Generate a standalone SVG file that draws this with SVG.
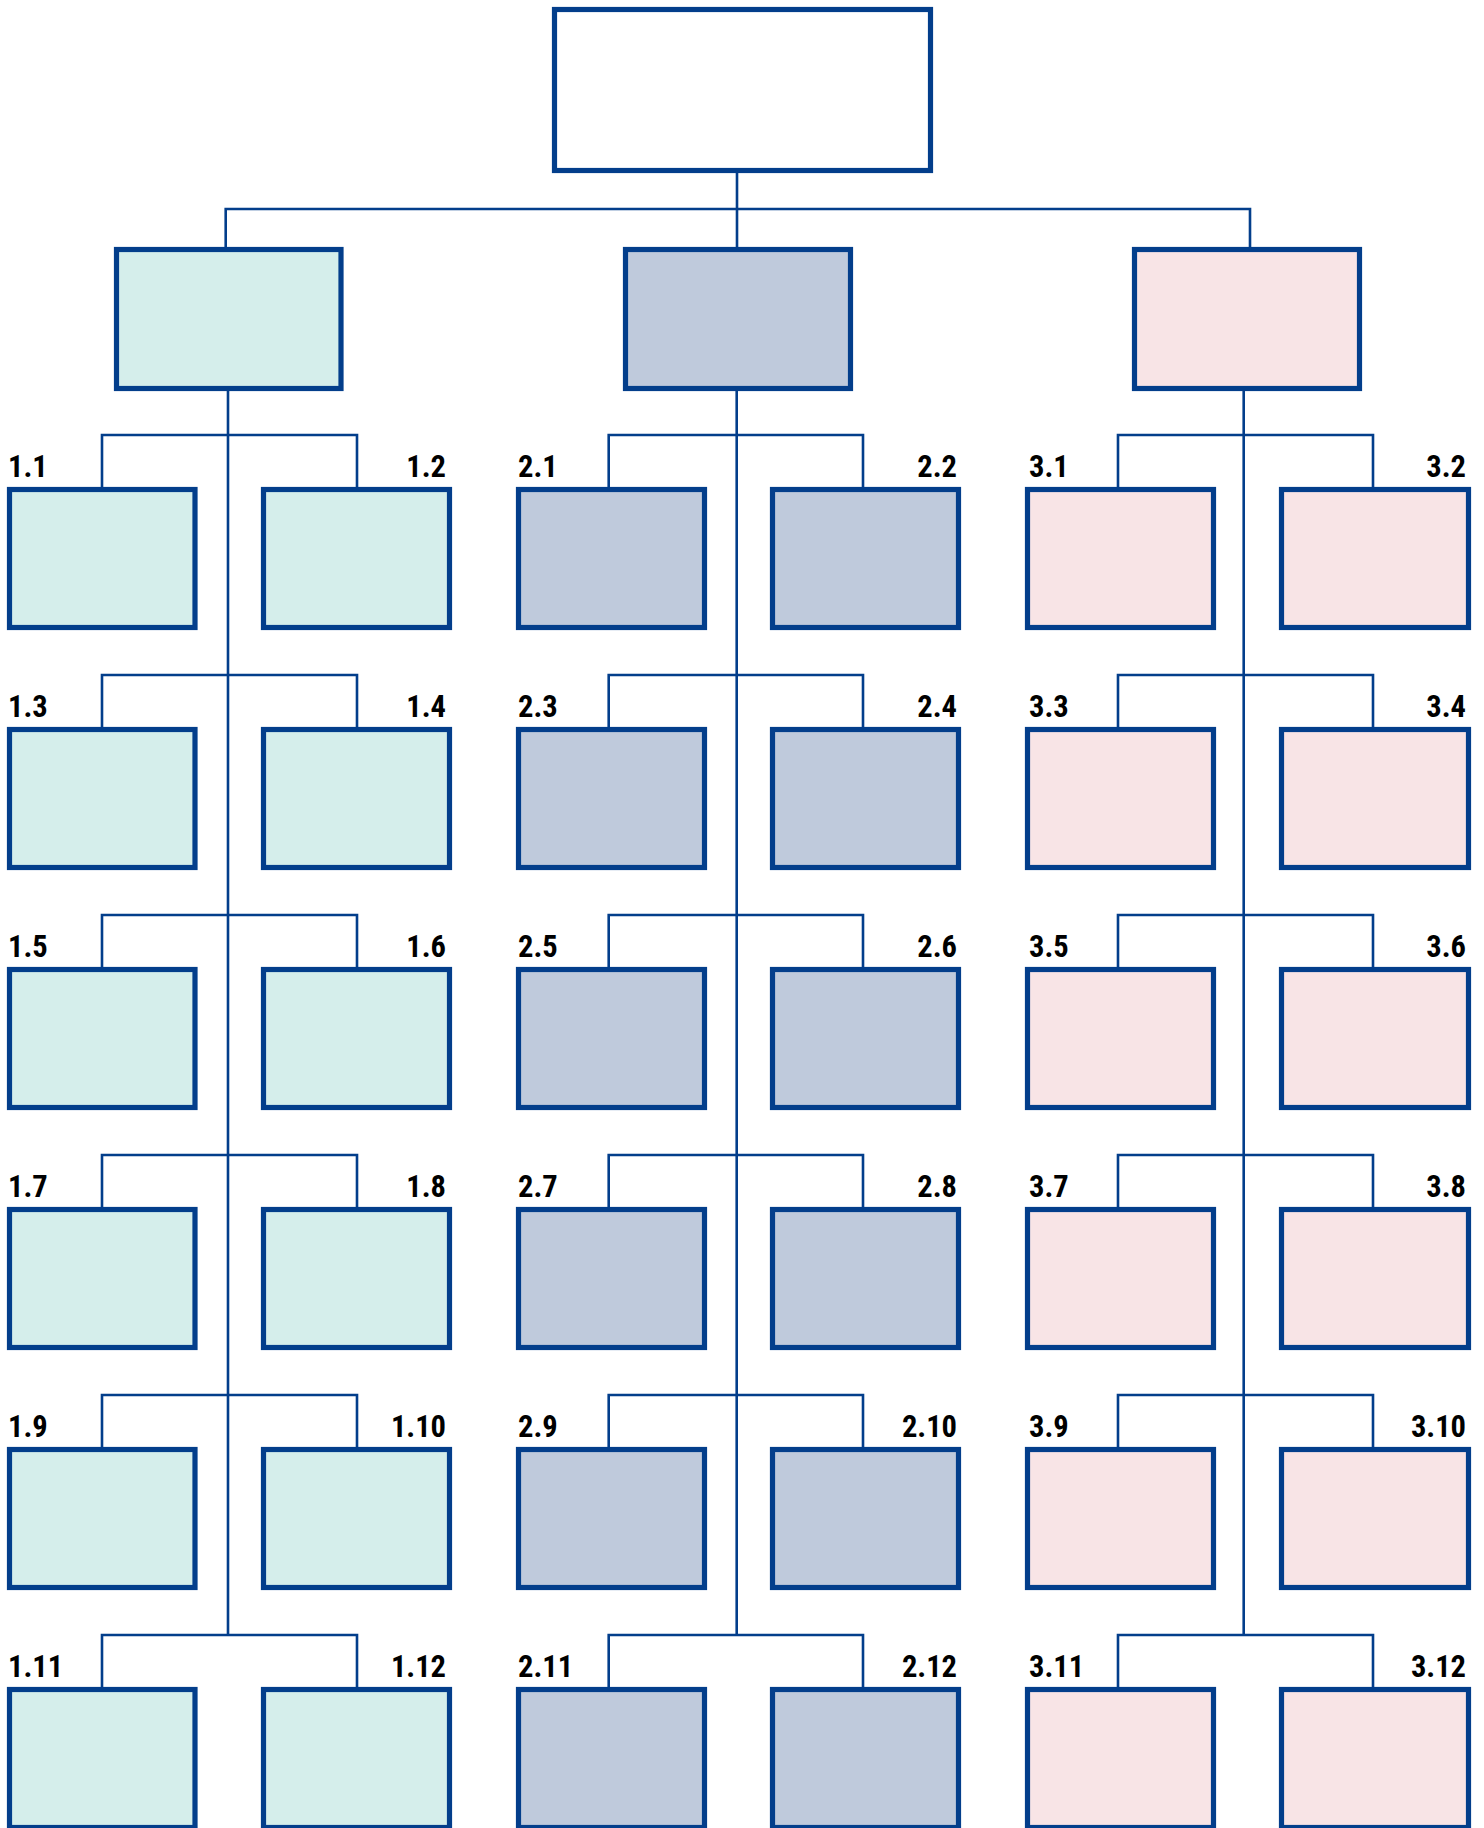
<svg xmlns="http://www.w3.org/2000/svg" width="1484" height="1828" viewBox="0 0 1484 1828">
<style>
.box{stroke:#033e8b;stroke-width:5.2;}
.top{fill:#ffffff;}
.c1{fill:#d5eeeb;}
.c2{fill:#bfcadc;}
.c3{fill:#f8e4e6;}
.ln{fill:none;stroke:#033e8b;stroke-width:2.6;}
.lbl{font-family:"Liberation Sans Narrow","Roboto Condensed","Liberation Sans",sans-serif;font-weight:bold;font-size:30.5px;fill:#000000;}
.r{text-anchor:end;}
</style>
<g id="connectors">
<path class="ln" d="M737,173V247M225.7,247V209H1250V247"/>
<path class="ln" d="M228,391V1635M736.7,391V1635M1243.7,391V1635"/>
<path class="ln" d="M102,487V435H357V487M102,727V675H357V727M102,967V915H357V967M102,1207V1155H357V1207M102,1447V1395H357V1447M102,1687V1635H357V1687"/>
<path class="ln" d="M608.7,487V435H863V487M608.7,727V675H863V727M608.7,967V915H863V967M608.7,1207V1155H863V1207M608.7,1447V1395H863V1447M608.7,1687V1635H863V1687"/>
<path class="ln" d="M1118,487V435H1373V487M1118,727V675H1373V727M1118,967V915H1373V967M1118,1207V1155H1373V1207M1118,1447V1395H1373V1447M1118,1687V1635H1373V1687"/>
</g>
<g id="root"><rect class="box top" x="554.5" y="9.5" width="376" height="161"/></g>
<g id="n1"><rect class="box c1" x="116.5" y="249.5" width="224.5" height="139"/></g>
<g id="n2"><rect class="box c2" x="625.5" y="249.5" width="225" height="139"/></g>
<g id="n3"><rect class="box c3" x="1134.5" y="249.5" width="225" height="139"/></g>

<g id="n1-1"><rect class="box c1" x="9.5" y="489.5" width="185.5" height="138"/><text class="lbl" x="8" y="477">1.1</text></g>
<g id="n1-2"><rect class="box c1" x="263.5" y="489.5" width="186" height="138"/><text class="lbl r" x="446" y="477">1.2</text></g>
<g id="n1-3"><rect class="box c1" x="9.5" y="729.5" width="185.5" height="138"/><text class="lbl" x="8" y="717">1.3</text></g>
<g id="n1-4"><rect class="box c1" x="263.5" y="729.5" width="186" height="138"/><text class="lbl r" x="446" y="717">1.4</text></g>
<g id="n1-5"><rect class="box c1" x="9.5" y="969.5" width="185.5" height="138"/><text class="lbl" x="8" y="957">1.5</text></g>
<g id="n1-6"><rect class="box c1" x="263.5" y="969.5" width="186" height="138"/><text class="lbl r" x="446" y="957">1.6</text></g>
<g id="n1-7"><rect class="box c1" x="9.5" y="1209.5" width="185.5" height="138"/><text class="lbl" x="8" y="1197">1.7</text></g>
<g id="n1-8"><rect class="box c1" x="263.5" y="1209.5" width="186" height="138"/><text class="lbl r" x="446" y="1197">1.8</text></g>
<g id="n1-9"><rect class="box c1" x="9.5" y="1449.5" width="185.5" height="138"/><text class="lbl" x="8" y="1437">1.9</text></g>
<g id="n1-10"><rect class="box c1" x="263.5" y="1449.5" width="186" height="138"/><text class="lbl r" x="446" y="1437">1.10</text></g>
<g id="n1-11"><rect class="box c1" x="9.5" y="1689.5" width="185.5" height="138"/><text class="lbl" x="8" y="1677">1.11</text></g>
<g id="n1-12"><rect class="box c1" x="263.5" y="1689.5" width="186" height="138"/><text class="lbl r" x="446" y="1677">1.12</text></g>

<g id="n2-1"><rect class="box c2" x="518.5" y="489.5" width="186" height="138"/><text class="lbl" x="518" y="477">2.1</text></g>
<g id="n2-2"><rect class="box c2" x="772.5" y="489.5" width="186" height="138"/><text class="lbl r" x="957" y="477">2.2</text></g>
<g id="n2-3"><rect class="box c2" x="518.5" y="729.5" width="186" height="138"/><text class="lbl" x="518" y="717">2.3</text></g>
<g id="n2-4"><rect class="box c2" x="772.5" y="729.5" width="186" height="138"/><text class="lbl r" x="957" y="717">2.4</text></g>
<g id="n2-5"><rect class="box c2" x="518.5" y="969.5" width="186" height="138"/><text class="lbl" x="518" y="957">2.5</text></g>
<g id="n2-6"><rect class="box c2" x="772.5" y="969.5" width="186" height="138"/><text class="lbl r" x="957" y="957">2.6</text></g>
<g id="n2-7"><rect class="box c2" x="518.5" y="1209.5" width="186" height="138"/><text class="lbl" x="518" y="1197">2.7</text></g>
<g id="n2-8"><rect class="box c2" x="772.5" y="1209.5" width="186" height="138"/><text class="lbl r" x="957" y="1197">2.8</text></g>
<g id="n2-9"><rect class="box c2" x="518.5" y="1449.5" width="186" height="138"/><text class="lbl" x="518" y="1437">2.9</text></g>
<g id="n2-10"><rect class="box c2" x="772.5" y="1449.5" width="186" height="138"/><text class="lbl r" x="957" y="1437">2.10</text></g>
<g id="n2-11"><rect class="box c2" x="518.5" y="1689.5" width="186" height="138"/><text class="lbl" x="518" y="1677">2.11</text></g>
<g id="n2-12"><rect class="box c2" x="772.5" y="1689.5" width="186" height="138"/><text class="lbl r" x="957" y="1677">2.12</text></g>

<g id="n3-1"><rect class="box c3" x="1027.5" y="489.5" width="186" height="138"/><text class="lbl" x="1029" y="477">3.1</text></g>
<g id="n3-2"><rect class="box c3" x="1281.5" y="489.5" width="187" height="138"/><text class="lbl r" x="1466" y="477">3.2</text></g>
<g id="n3-3"><rect class="box c3" x="1027.5" y="729.5" width="186" height="138"/><text class="lbl" x="1029" y="717">3.3</text></g>
<g id="n3-4"><rect class="box c3" x="1281.5" y="729.5" width="187" height="138"/><text class="lbl r" x="1466" y="717">3.4</text></g>
<g id="n3-5"><rect class="box c3" x="1027.5" y="969.5" width="186" height="138"/><text class="lbl" x="1029" y="957">3.5</text></g>
<g id="n3-6"><rect class="box c3" x="1281.5" y="969.5" width="187" height="138"/><text class="lbl r" x="1466" y="957">3.6</text></g>
<g id="n3-7"><rect class="box c3" x="1027.5" y="1209.5" width="186" height="138"/><text class="lbl" x="1029" y="1197">3.7</text></g>
<g id="n3-8"><rect class="box c3" x="1281.5" y="1209.5" width="187" height="138"/><text class="lbl r" x="1466" y="1197">3.8</text></g>
<g id="n3-9"><rect class="box c3" x="1027.5" y="1449.5" width="186" height="138"/><text class="lbl" x="1029" y="1437">3.9</text></g>
<g id="n3-10"><rect class="box c3" x="1281.5" y="1449.5" width="187" height="138"/><text class="lbl r" x="1466" y="1437">3.10</text></g>
<g id="n3-11"><rect class="box c3" x="1027.5" y="1689.5" width="186" height="138"/><text class="lbl" x="1029" y="1677">3.11</text></g>
<g id="n3-12"><rect class="box c3" x="1281.5" y="1689.5" width="187" height="138"/><text class="lbl r" x="1466" y="1677">3.12</text></g>
</svg>
